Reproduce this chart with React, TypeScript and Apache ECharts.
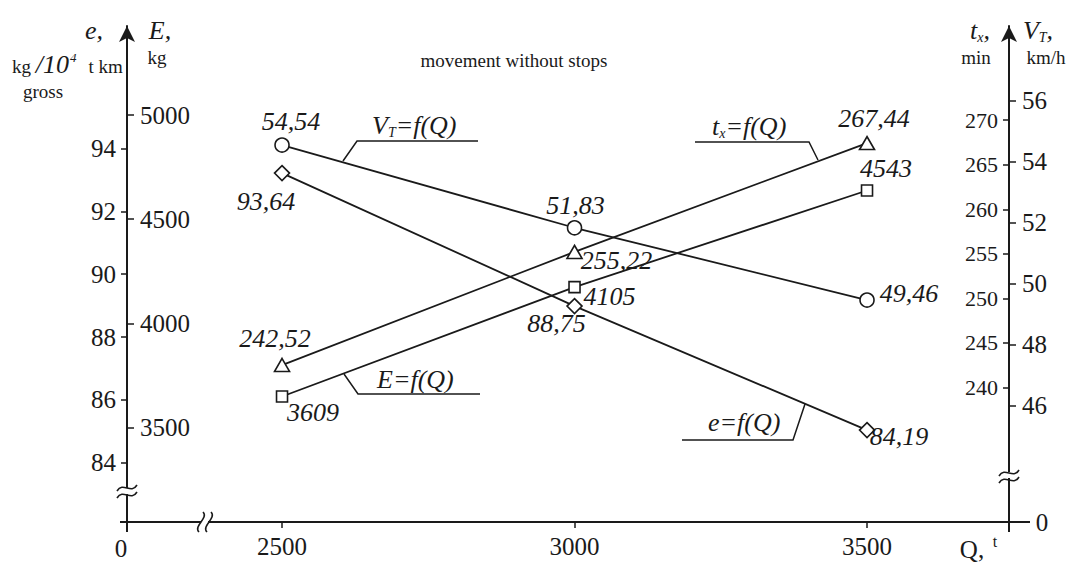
import React, { useEffect, useRef } from "react";
import * as echarts from "echarts";

// ---------- data ----------
const Q = [2500, 3000, 3500];
const VT = [54.54, 51.83, 49.46]; // km/h
const TX = [242.52, 255.22, 267.44]; // min
const EKG = [3609, 4105, 4543]; // kg
const ESPEC = [93.64, 88.75, 84.19]; // kg/10^4 t km gross

const Q_TICKS = [2500, 3000, 3500];
const ESPEC_TICKS = [84, 86, 88, 90, 92, 94];
const EKG_TICKS = [3500, 4000, 4500, 5000];
const TX_TICKS = [240, 245, 250, 255, 260, 265, 270];
const VT_TICKS = [46, 48, 50, 52, 54, 56];

// ---------- label placement (style only) ----------
const VT_OFF = [[9, -24], [1, -22], [42, -7]];
const TX_OFF = [[-7, -27], [42, 9], [7, -25]];
const EKG_OFF = [[31, 16], [35, 9], [19, -22]];
const ESPEC_OFF = [[-16, 28], [-18, 17], [32, 6]];

const FONT = "Liberation Serif, serif";
const INK = "#1a1a1a";

const fmt = (v: number) => String(v).replace(".", ",");
const plain = (v: number) => String(v);

function buildSeries(name: string, vals: number[], offs: number[][], yAxisIndex: number, symbol: string, symbolSize: any) {
  return {
    type: "line",
    name,
    yAxisIndex,
    symbol,
    symbolSize,
    showAllSymbol: true,
    lineStyle: { color: INK, width: 1.8 },
    itemStyle: { color: "#fff", borderColor: INK, borderWidth: 1.6 },
    z: 3,
    data: vals.map((v, i) => ({
      value: [Q[i], v],
      label: { offset: offs[i] },
    })),
    label: {
      show: true,
      position: "inside",
      align: "center",
      verticalAlign: "middle",
      formatter: (p: any) => fmt(p.value[1]),
      fontFamily: FONT,
      fontStyle: "italic",
      fontSize: 26,
      color: INK,
    },
  };
}

const tickLabel = (size: number) => ({ fontFamily: FONT, fontSize: size, color: INK, formatter: plain });

const tilde = (cx: number, cy: number) => ({
  type: "bezierCurve",
  shape: { x1: cx - 10, y1: cy + 3, cpx1: cx - 4, cpy1: cy - 7, cpx2: cx + 4, cpy2: cy + 7, x2: cx + 10, y2: cy - 3 },
  style: { stroke: INK, lineWidth: 1.6, fill: null },
  z: 10,
});
const vwave = (cx: number, cy: number) => ({
  type: "bezierCurve",
  shape: { x1: cx + 2, y1: cy - 10, cpx1: cx + 8, cpy1: cy - 4, cpx2: cx - 8, cpy2: cy + 4, x2: cx - 2, y2: cy + 10 },
  style: { stroke: INK, lineWidth: 1.6, fill: null },
  z: 10,
});

const txt = (text: string, x: number, y: number, size: number, opts: any = {}) => ({
  type: "text",
  x,
  y,
  z: 10,
  style: {
    text,
    fontFamily: FONT,
    fontSize: size,
    fill: INK,
    align: opts.align || "center",
    verticalAlign: "middle",
    fontStyle: opts.italic ? "italic" : "normal",
    rich: opts.rich,
  },
});

const richSub = {
  i: { fontFamily: FONT, fontSize: 26, fontStyle: "italic", color: INK },
  s: { fontFamily: FONT, fontSize: 14, fontStyle: "italic", color: INK, padding: [14, 0, 0, 0] },
};

const polyline = (pts: number[][]) => ({
  type: "polyline",
  shape: { points: pts },
  style: { stroke: INK, lineWidth: 1.5, fill: null },
  z: 10,
});
const seg = (x1: number, y1: number, x2: number, y2: number, w = 2) => ({
  type: "line",
  shape: { x1, y1, x2, y2 },
  style: { stroke: INK, lineWidth: w },
  z: 9,
});

const option: any = {
  animation: false,
  backgroundColor: "#fff",
  textStyle: { fontFamily: FONT },
  grid: { left: 127, right: 58, top: 26, bottom: 43 },
  xAxis: {
    type: "value",
    min: 2235,
    max: 3742.7,
    axisLine: { show: true, lineStyle: { color: INK, width: 2 } },
    axisTick: { show: true, length: 6, lineStyle: { color: INK, width: 1.5 }, customValues: Q_TICKS },
    axisLabel: { ...tickLabel(25), margin: 12, customValues: Q_TICKS },
    splitLine: { show: false },
  },
  yAxis: [
    {
      type: "value",
      position: "left",
      min: 82.12,
      max: 97.89,
      axisLine: { show: true, lineStyle: { color: INK, width: 2 }, symbol: ["none", "arrow"], symbolSize: [12, 16] },
      axisTick: { show: true, length: 6, lineStyle: { color: INK, width: 1.5 }, customValues: ESPEC_TICKS },
      axisLabel: { ...tickLabel(25), margin: 11, customValues: ESPEC_TICKS },
      splitLine: { show: false },
    },
    {
      type: "value",
      position: "left",
      min: 3045.6,
      max: 5427.9,
      axisLine: { show: false },
      axisTick: { show: true, inside: true, length: 7, lineStyle: { color: INK, width: 1.5 }, customValues: EKG_TICKS },
      axisLabel: { ...tickLabel(25), inside: true, margin: 13, customValues: EKG_TICKS },
      splitLine: { show: false },
    },
    {
      type: "value",
      position: "right",
      min: 224.9,
      max: 280.58,
      axisLine: { show: false },
      axisTick: { show: true, inside: true, length: 6, lineStyle: { color: INK, width: 1.5 }, customValues: TX_TICKS },
      axisLabel: { ...tickLabel(22), inside: true, margin: 11, customValues: TX_TICKS },
      splitLine: { show: false },
    },
    {
      type: "value",
      position: "right",
      min: 42.19,
      max: 58.44,
      axisLine: { show: true, lineStyle: { color: INK, width: 2 }, symbol: ["none", "arrow"], symbolSize: [12, 16] },
      axisTick: { show: true, length: 7, lineStyle: { color: INK, width: 1.5 }, customValues: VT_TICKS },
      axisLabel: { ...tickLabel(25), margin: 13, customValues: VT_TICKS },
      splitLine: { show: false },
    },
    { type: "value", show: false, min: 80.81, max: 99.05, splitLine: { show: false } },
    { type: "value", show: false, min: 3040, max: 5288.8, splitLine: { show: false } },
  ],
  series: [
    buildSeries("V_T", VT, VT_OFF, 3, "circle", 14),
    buildSeries("t_x", TX, TX_OFF, 2, "triangle", [15, 13]),
    buildSeries("E", EKG, EKG_OFF, 5, "rect", 11),
    buildSeries("e", ESPEC, ESPEC_OFF, 4, "diamond", [15, 15]),
  ],
  graphic: [
    // axis extensions
    seg(120, 522, 127, 522),
    seg(1009, 522, 1030, 522),
    seg(127, 522, 127, 532),
    seg(1009, 522, 1009, 532),
    // breaks
    { type: "rect", shape: { x: 118, y: 488, width: 18, height: 6 }, style: { fill: "#fff" }, z: 9 },
    tilde(127, 488),
    tilde(127, 495),
    { type: "rect", shape: { x: 1000, y: 472, width: 18, height: 6 }, style: { fill: "#fff" }, z: 9 },
    tilde(1009, 473),
    tilde(1009, 480),
    { type: "rect", shape: { x: 201, y: 518, width: 7, height: 8 }, style: { fill: "#fff" }, z: 9 },
    vwave(201, 522),
    vwave(209, 522),
    // axis titles left
    txt("e,", 94, 30, 26, { italic: true }),
    txt("E,", 160, 30, 26, { italic: true }),
    txt("kg", 157, 57, 19),
    txt("{n|kg }{i|/10}{sup|4}{n|t km}", 12, 64, 19, {
      align: "left",
      rich: {
        n: { fontFamily: FONT, fontSize: 19, color: INK, padding: [4, 0, 0, 0] },
        i: { fontFamily: FONT, fontSize: 26, fontStyle: "italic", color: INK },
        sup: { fontFamily: FONT, fontSize: 13, fontStyle: "italic", color: INK, padding: [0, 12, 14, 1] },
      },
    }),
    txt("gross", 43, 91, 19),
    // axis titles right
    txt("{i|t}{s|x}{i|,}", 980, 30, 26, { rich: richSub }),
    txt("min", 976, 57, 19),
    txt("{i|V}{s|T}{i|,}", 1038, 30, 26, { rich: richSub }),
    txt("km/h", 1046, 57, 19),
    // misc texts
    txt("movement without stops", 514, 60, 19),
    txt("0", 121, 548, 25),
    txt("0", 1042, 522, 25),
    txt("Q,", 972, 549, 25),
    txt("t", 995, 541, 16),
    // callouts
    polyline([[343, 161], [357, 141], [478, 141]]),
    txt("{i|V}{s|T}{i|=f(Q)}", 372, 125, 26, { align: "left", rich: richSub }),
    polyline([[344, 374], [358, 394], [480, 394]]),
    txt("{i|E=f(Q)}", 377, 379, 26, { align: "left", rich: richSub }),
    polyline([[695, 142], [809, 142], [818, 160]]),
    txt("{i|t}{s|x}{i|=f(Q)}", 712, 126, 26, { align: "left", rich: richSub }),
    polyline([[682, 440], [793, 440], [805, 404]]),
    txt("{i|e=f(Q)}", 708, 422, 26, { align: "left", rich: richSub }),
  ],
};

export default function App() {
  const ref = useRef<HTMLDivElement>(null);
  useEffect(() => {
    const chart = echarts.init(ref.current!, null, { renderer: "svg" });
    chart.setOption(option);
    return () => chart.dispose();
  }, []);
  return (
    <div
      ref={ref}
      style={{ position: "fixed", left: 0, top: 0, width: 1067, height: 565, background: "#fff" }}
    />
  );
}
